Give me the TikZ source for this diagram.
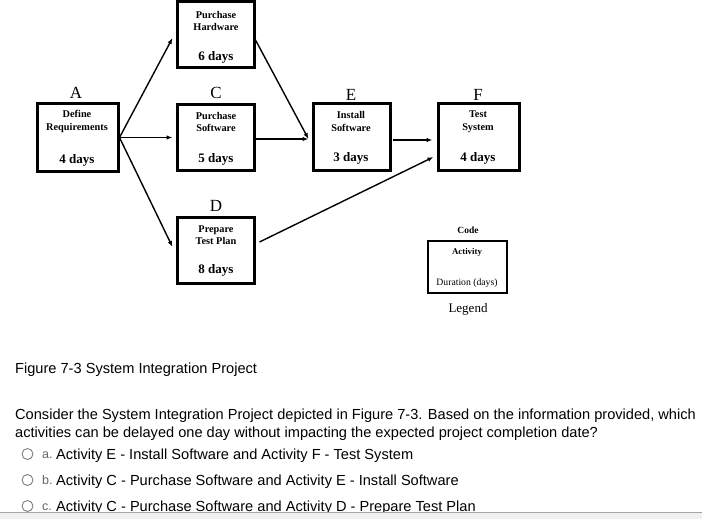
\documentclass[tikz,border=0pt]{standalone}
\usepackage{fontspec}
\setmainfont{Liberation Serif}
\newfontfamily\uifont{Liberation Sans}
\usetikzlibrary{arrows.meta}
\begin{document}
\begin{tikzpicture}[x=1pt,y=-1pt,
  box/.style={draw,line width=3pt,minimum width=77pt,minimum height=66pt,inner sep=0pt},
  toptxt/.style={font=\fontsize{10.3}{12.5}\selectfont\bfseries,align=center,inner sep=0pt},
  durtxt/.style={font=\fontsize{13}{14}\selectfont\bfseries,inner sep=0pt},
  code/.style={font=\fontsize{17}{19}\selectfont,inner sep=0pt},
  conn/.style={line width=1.4pt,-{Latex[length=6pt,width=4.5pt]}},
  ui/.style={font=\uifont\fontsize{14.6}{17}\selectfont,anchor=base west,inner sep=0pt},
  opt/.style={font=\uifont\fontsize{12.5}{14}\selectfont,text=black!60,anchor=base west,inner sep=0pt},
  radio/.style={draw=black!55,line width=0.8pt,circle,minimum size=11pt,inner sep=0pt}]
\useasboundingbox[fill=white] (0,0) rectangle (702,519);
% boxes
\node[box,minimum width=81pt,minimum height=67pt] (A) at (77.5,137.5) {};
\node[box] (B) at (215.5,35) {};
\node[box] (C) at (215.5,137.5) {};
\node[box] (D) at (215.5,250) {};
\node[box] (E) at (351.5,137) {};
\node[box,minimum width=81pt] (F) at (478.5,137) {};
% code letters
\node[code] (lA) at (76,93) {A};
\node[code] (lC) at (216,93) {C};
\node[code] (lD) at (216,206) {D};
\node[code] (lE) at (351,95) {E};
\node[code] (lF) at (478,95) {F};
% box texts
\node[toptxt] (tA) at (77,121.5) {Define\\Requirements};
\node[durtxt] (dA) at (77,160) {4 days};
\node[toptxt] (tB) at (216,21) {Purchase\\Hardware};
\node[durtxt] (dB) at (216,57) {6 days};
\node[toptxt] (tC) at (216,122) {Purchase\\Software};
\node[durtxt] (dC) at (216,159) {5 days};
\node[toptxt] (tD) at (216,235) {Prepare\\Test Plan};
\node[durtxt] (dD) at (216,270) {8 days};
\node[toptxt] (tE) at (351,121.5) {Install\\Software};
\node[durtxt] (dE) at (351,158.5) {3 days};
\node[toptxt] (tF) at (478,121.5) {Test\\System};
\node[durtxt] (dF) at (478,158.5) {4 days};
% connectors
\draw[conn] (A.east) -- ([xshift=-3pt,yshift=-3pt]B.west);
\draw[conn] (A.east) -- ([xshift=-3pt]C.west);
\draw[conn] (A.east) -- ([xshift=-3pt,yshift=3pt]D.west);
\draw[conn] ([yshift=-5pt]B.east) -- ([xshift=-3pt,yshift=-2pt]E.west);
\draw[conn] ([yshift=-1.5pt]C.east) -- ([xshift=-3pt,yshift=-2pt]E.west);
\draw[conn] ([xshift=1pt,yshift=-3pt]E.east) -- ([xshift=-4pt,yshift=-3pt]F.west);
\draw[conn] ([xshift=4pt,yshift=8pt]D.east) -- ([xshift=-3pt,yshift=-20pt]F.west);
% legend
\node[box,line width=2.6pt,minimum width=79pt,minimum height=52pt] (L) at (467.5,267) {};
\node[font=\fontsize{9.5}{10}\selectfont\bfseries,inner sep=0pt] (lcode) at (468,230) {Code};
\node[font=\fontsize{8.8}{10}\selectfont\bfseries,inner sep=0pt] (lact) at (467,252) {Activity};
\node[font=\fontsize{9.7}{10}\selectfont,inner sep=0pt] (ldur) at (467,283) {Duration (days)};
\node[font=\fontsize{13}{15}\selectfont,inner sep=0pt] (lleg) at (468,309) {Legend};
% question text
\node[ui] (cap) at (15,373) {Figure 7-3 System Integration Project};
\node[ui] (q1) at (15,419) {Consider the System Integration Project depicted in Figure 7-3. Based on the information provided, which};
\node[ui] (q2) at (15,437) {activities can be delayed one day without impacting the expected project completion date?};
\node[radio] (ra) at (27.5,454) {};
\node[radio] (rb) at (27.5,480) {};
\node[radio] (rc) at (27.5,506) {};
\node[opt] (oa) at (42,458.5) {a.};
\node[opt] (ob) at (42,484.5) {b.};
\node[opt] (oc) at (42,510.5) {c.};
\node[ui] (aa) at (56,459) {Activity E - Install Software and Activity F - Test System};
\node[ui] (ab) at (56,485) {Activity C - Purchase Software and Activity E - Install Software};
\node[ui] (ac) at (56,511) {Activity C - Purchase Software and Activity D - Prepare Test Plan};
% bottom bar
\fill[black!6] (0,512.5) rectangle (702,519);
\draw[black!35,line width=0.8pt] (0,512.5) -- (702,512.5);
\end{tikzpicture}
\end{document}
